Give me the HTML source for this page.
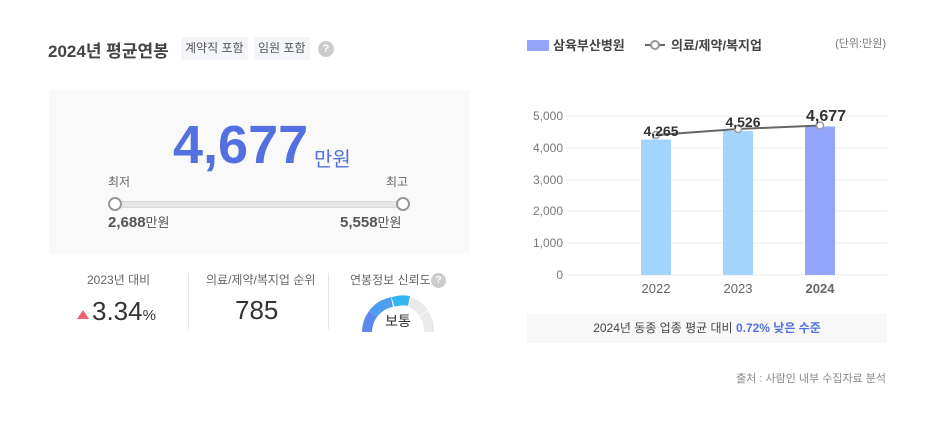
<!DOCTYPE html><html><head><meta charset="utf-8"><style>
body{margin:0;width:946px;height:432px;background:#fff;font-family:"Liberation Sans","Noto Sans CJK KR",sans-serif;position:relative;overflow:hidden;color:#333}
.a{position:absolute;white-space:nowrap}
.tag{position:absolute;background:#f3f5f9;color:#555;font-size:12px;padding:0 4px;height:23px;line-height:23px;top:37px}
</style></head><body>
<div class="a" style="left:48px;top:37px;font-size:17px;font-weight:bold;color:#444">2024년 평균연봉</div>
<div class="tag" style="left:181px">계약직 포함</div>
<div class="tag" style="left:254px">임원 포함</div>
<div class="a" style="left:318px;top:41px;width:16px;height:16px;border-radius:50%;background:#ccc;color:#fff;font-size:11px;font-weight:bold;text-align:center;line-height:16px">?</div>
<div class="a" style="left:49px;top:90px;width:420px;height:163px;background:#f9f9f9"></div>
<div class="a" style="left:173px;top:114px;font-size:54px;font-weight:bold;color:#5470e0">4,677</div>
<div class="a" style="left:314px;top:143px;font-size:20px;color:#5470e0">만원</div>
<div class="a" style="left:108px;top:173px;font-size:12px;color:#666">최저</div>
<div class="a" style="left:386px;top:173px;font-size:12px;color:#666">최고</div>
<div class="a" style="left:115px;top:201px;width:288px;height:5px;background:#e6e6e6;border:1px solid #d8d8d8;border-radius:3px"></div>
<div class="a" style="left:108px;top:197px;width:10px;height:10px;border:2px solid #999;border-radius:50%;background:#fff"></div>
<div class="a" style="left:396px;top:197px;width:10px;height:10px;border:2px solid #999;border-radius:50%;background:#fff"></div>
<div class="a" style="left:108px;top:212px;font-size:15px;color:#555"><b>2,688</b><span style="font-size:13px">만원</span></div>
<div class="a" style="left:340px;top:212px;font-size:15px;color:#555"><b>5,558</b><span style="font-size:13px">만원</span></div>
<div class="a" style="left:188px;top:273px;width:1px;height:56px;background:#e5e5e5"></div>
<div class="a" style="left:328px;top:273px;width:1px;height:56px;background:#e5e5e5"></div>
<div class="a" style="left:87px;top:271px;font-size:12px;color:#666">2023년 대비</div>
<div class="a" style="left:77px;top:310px;width:0;height:0;border-left:6px solid transparent;border-right:6px solid transparent;border-bottom:9px solid #f0636e"></div>
<div class="a" style="left:92px;top:296px;font-size:26px;color:#333">3.34<span style="font-size:15px">%</span></div>
<div class="a" style="left:206px;top:271px;font-size:12px;color:#666">의료/제약/복지업 순위</div>
<div class="a" style="left:235px;top:295px;font-size:26px;color:#333">785</div>
<div class="a" style="left:350px;top:271px;font-size:12px;color:#666">연봉정보 신뢰도</div>
<div class="a" style="left:431px;top:273px;width:15px;height:15px;border-radius:50%;background:#ccc;color:#fff;font-size:10px;font-weight:bold;text-align:center;line-height:15px">?</div>
<svg class="a" style="left:360px;top:294px" width="80" height="40">
<g fill="none" stroke-width="10">
<path d="M7 38 A31 31 0 0 1 13 20" stroke="#5b87ee"/>
<path d="M13 20 A31 31 0 0 1 32 8" stroke="#4d9ef0"/>
<path d="M33 8 A31 31 0 0 1 49 7" stroke="#33b5f0"/>
<path d="M50 8 A31 31 0 0 1 64 19" stroke="#eaeaea"/>
<path d="M64 20 A31 31 0 0 1 69 38" stroke="#eaeaea"/>
</g>
<text x="38" y="32" font-size="14" text-anchor="middle" fill="#333" font-family="Liberation Sans,Noto Sans CJK KR,sans-serif">보통</text>
</svg>
<svg class="a" style="left:0;top:0" width="946" height="432" font-family="Liberation Sans,Noto Sans CJK KR,sans-serif">
<rect x="527" y="40" width="22" height="11" fill="#94a6fb"/>
<text x="553" y="50" font-size="13" font-weight="bold" fill="#444">삼육부산병원</text>
<line x1="645" y1="45" x2="665" y2="45" stroke="#666" stroke-width="2"/>
<circle cx="655" cy="45" r="4" fill="#fff" stroke="#999" stroke-width="2"/>
<text x="671" y="50" font-size="13" font-weight="bold" fill="#444">의료/제약/복지업</text>
<text x="886" y="47" font-size="11" fill="#777" text-anchor="end">(단위:만원)</text>
<g stroke="#eee" stroke-width="1">
<line x1="565" y1="116" x2="887" y2="116"/><line x1="565" y1="148" x2="887" y2="148"/><line x1="565" y1="180" x2="887" y2="180"/><line x1="565" y1="211" x2="887" y2="211"/><line x1="565" y1="243" x2="887" y2="243"/><line x1="565" y1="275" x2="887" y2="275"/></g>
<g font-size="12" fill="#777" text-anchor="end">
<text x="563" y="120">5,000</text><text x="563" y="152">4,000</text><text x="563" y="184">3,000</text><text x="563" y="215">2,000</text><text x="563" y="247">1,000</text><text x="563" y="279">0</text></g>
<rect x="641" y="139.5" width="30" height="135.5" fill="#a3d4fd"/>
<rect x="723" y="131" width="30" height="144" fill="#a3d4fd"/>
<rect x="805" y="126.5" width="30" height="148.5" fill="#94a6fb"/>
<polyline points="656,135 738,129 820,125.5" fill="none" stroke="#666" stroke-width="2"/>
<g fill="#fff" stroke="#999" stroke-width="1.5"><circle cx="656" cy="135" r="3.5"/><circle cx="738" cy="129" r="3.5"/><circle cx="820" cy="125.5" r="3.5"/></g>
<g font-size="14" font-weight="bold" fill="#333" text-anchor="middle">
<text x="661" y="136">4,265</text><text x="743" y="127">4,526</text><text x="826" y="121" font-size="16">4,677</text></g>
<g font-size="13" fill="#666" text-anchor="middle">
<text x="656" y="293">2022</text><text x="738" y="293">2023</text><text x="820" y="293" font-weight="bold">2024</text></g>
<rect x="527" y="314" width="360" height="29" fill="#f8f8f8"/>
<text x="707" y="332" font-size="12" fill="#444" text-anchor="middle">2024년 동종 업종 평균 대비 <tspan fill="#5470e0" font-weight="bold">0.72% 낮은 수준</tspan></text>
<text x="886" y="382" font-size="11" fill="#888" text-anchor="end">출처 : 사람인 내부 수집자료 분석</text>
</svg>
</body></html>
